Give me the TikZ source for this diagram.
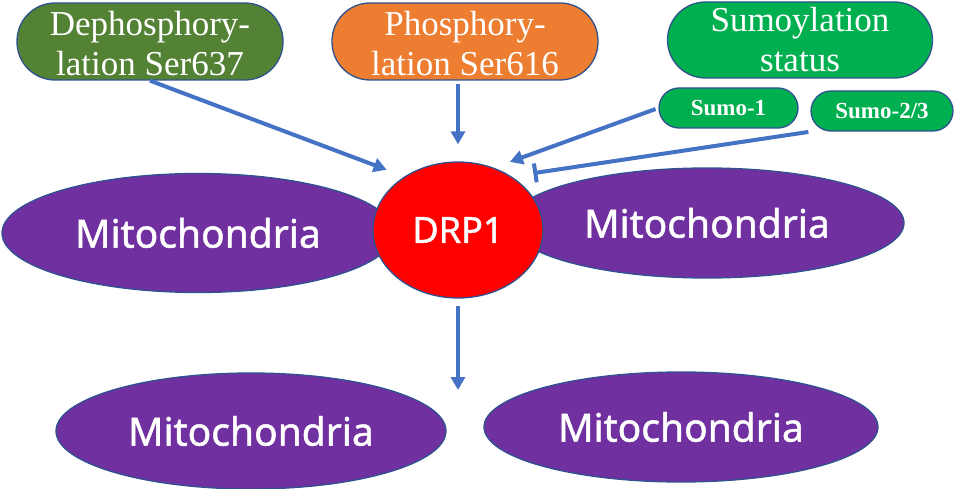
\documentclass[tikz,border=0pt]{standalone}
\usepackage{xcolor}
\usepackage{fontspec}
\setmainfont{Liberation Serif}
\newfontfamily\mitofont{Noto Sans}[FakeBold=1.2]
\usepackage{tikz}
\usetikzlibrary{arrows.meta}
\usetikzlibrary{shapes.geometric}

\definecolor{dephosgreen}{HTML}{548235}
\definecolor{phosorange}{HTML}{ED7D31}
\definecolor{sumogreen}{HTML}{00B050}
\definecolor{mitopurple}{HTML}{7030A0}
\definecolor{drpred}{HTML}{FF0000}
\definecolor{edgeblue}{HTML}{2F528F}
\definecolor{arrowblue}{HTML}{4472C4}

\begin{document}
\begin{tikzpicture}[x=1pt, y=-1pt,
		stage/.style={draw=edgeblue, line width=1.3pt, rounded corners=38pt,
			minimum width=266pt, minimum height=77pt, inner sep=0pt, text=white,
			align=center, font=\fontsize{35}{40}\selectfont, text height=73pt, text depth=4pt},
		sumo/.style={draw=edgeblue, line width=1.3pt, rounded corners=20pt, fill=sumogreen,
			minimum height=40pt, inner sep=0pt, text=white,
			font=\fontsize{23}{28}\selectfont\bfseries, text height=15pt, text depth=0pt},
		mito/.style={ellipse, draw=edgeblue, line width=1.3pt, fill=mitopurple, inner sep=0pt,
			text=white, font=\mitofont\fontsize{39}{47}\selectfont},
		act/.style={draw=arrowblue, line width=4pt, -{Triangle[length=13pt, width=14pt]}},
		inh/.style={draw=arrowblue, line width=4pt, -{Bar[width=19pt]}}
	]
	\useasboundingbox (0,0) rectangle (956,489);

	\node[stage, fill=dephosgreen] (dephos) at (150,41.5) {Dephosphory-\\lation Ser637};
	\node[stage, fill=phosorange] (phos) at (465,41.5) {Phosphory-\\lation Ser616};
	\node[stage, fill=sumogreen, minimum width=265pt, minimum height=76pt, text height=70pt, text depth=6pt]
		(status) at (800,40) {Sumoylation\\status};
	\node[sumo, minimum width=139pt] (sumo1) at (728.5,108) {Sumo-1};
	\node[sumo, minimum width=142pt] (sumo23) at (882,111) {Sumo-2/3};

	\node[mito, minimum width=392pt, minimum height=119pt] (mitoL) at (198,233) {Mitochondria};
	\node[mito, minimum width=394pt, minimum height=110pt] (mitoR) at (707,223) {Mitochondria};
	\node[ellipse, draw=edgeblue, line width=1.3pt, fill=drpred, inner sep=0pt,
		minimum width=170pt, minimum height=136pt, text=white,
		font=\mitofont\fontsize{36}{42}\selectfont] (drp1) at (458,230) {DRP1};
	\node[mito, minimum width=390pt, minimum height=116pt] (mitoBL) at (251,431) {Mitochondria};
	\node[mito, minimum width=394pt, minimum height=110pt] (mitoBR) at (681,427) {Mitochondria};

	\coordinate (split) at (458,390);

	\draw[act, shorten >=19pt] (dephos.south) -- (drp1.135);
	\draw[act, shorten <=3pt, shorten >=17pt] (phos.south -| drp1.north) -- (drp1.north);
	\draw[act, shorten <=3pt, shorten >=17pt] (sumo1.west) -- (drp1.60);
	\draw[inh, shorten <=2pt, shorten >=22pt] (sumo23.south west) -- (drp1.45);
	\draw[act, shorten <=7pt] (drp1.south) -- (split);
\end{tikzpicture}
\end{document}
